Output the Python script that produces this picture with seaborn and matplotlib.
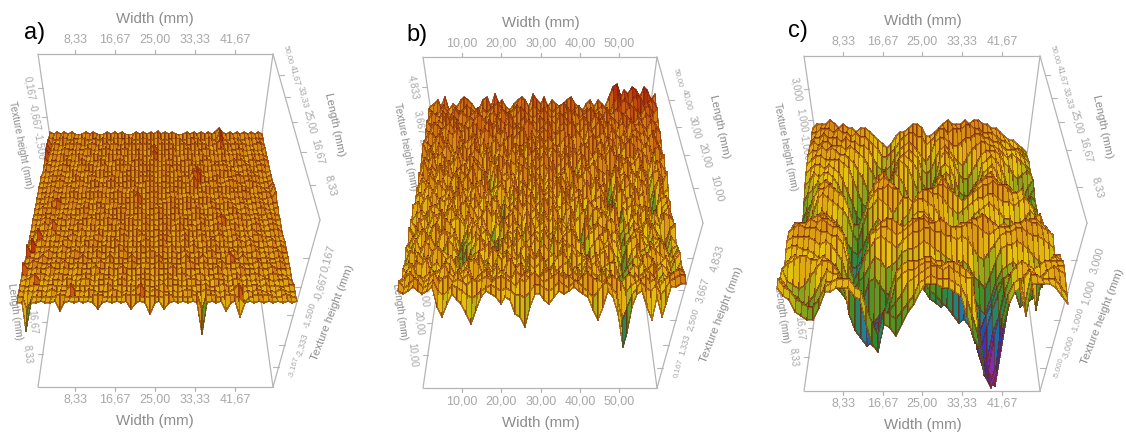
import matplotlib
matplotlib.use("Agg")
import matplotlib.pyplot as plt
from matplotlib.colors import TwoSlopeNorm
import seaborn as sns
import numpy as np

# height grids, back row first, one base-36 character per cell
heights_a = [
"vuvuvuvutuvuvutuvuvuvutuvuvuvuwuvuvutuvuvuvuvuvyvuvuvuvuvuvu",
"vutuvutuuvutuutvutuvuuvutuvutuvutuuvutuvvutuvutzutuvutuvuvuu",
"xuvutuvuvutuvutuvuvutvuvuvuvutuvuvutuvuuvuvutuvxuvuvuvutuvvu",
"ytutuvuutuuvutuuvutuuvutuutuvxutuuvutuvutuuvutuvutuuvutuutuv",
"yuvuvutvuvutuvutuvuvutuvuvutuxuvuvutuvuvuvutuvuvuvuvutuvuvut",
"vtuutuvutuvutuuvutuuvutuuvutuvutuvutuuvutuuvuttuutvuvtuvuuvu",
"uvutuvuutuvuvutuvutuvuvutuvuvutuvuuvutuvuvutuvuvuttuuvutuvut",
"tutuvutuvutuutuvutuvutuuvutuutuvutuvutuvxutuvuvuuvutuvutuutu",
"utuvuvutuvutuvutuuvutuvutuvuvutuvutuuvuxyvutuvutuuvvuvuvutuv",
"tutuuvutuuvutuvutuvutuuvutuuvutuutuvutuxutuuvutuvvutuvuutuuv",
"utuvutuvutuvutuuvutuvutuvutuvuvutvuutuvutuvutuuvutuvutuvutux",
"tuutvuutuvutuvuvutuuvutuvutuuvutuuvutuutuvutuvutuvuvvutuuvuz",
"utuvutuuvutuutuvuvutuvuuvxutuvutuvutuvutuuvutvuutuvutuvutuvy",
"tutuvxutuvutvutuutuvutuuvutuvutuuvutuvuvutuvutuvutuutuuvutuu",
"utvuvutuutuuvutuvutuuvutuvutuuvutuvutuuvutuvuutuvutvutuvutuv",
"tutuutuvtutuvutuuvutuvutuuvutuvutuuvutuvuutuvutuuvuutuutuvut",
"utuvutuutvutuuvutuvuutuvutuvutuuvutvuutuvutuvxutuvutuvutuutu",
"tutvtxuttutvutututuutvututuvtutvutuvtuutvutuvutuvtutuvutuvut",
"ttutuvtutuutvtutvututvutuvtutuutvtutvutuututvtuvututvtutuuvt",
"utytutvuttvututuvtuttuvtutvuttuvututvtutvuttvutuvtutuvuttutu",
"tutvtuttuvtutuuvttutvtututtvutuvttutvtututvututtvutvttutvtut",
"tzutututvttutvtutuuttvututvtutuutvtutuvttutvtuttutuvuttuttvt",
"yttutvttutuvttutvttutuvttuttvutututtvttutuvttutvtuttvtutuvtt",
"tuttvttuttuttvttuttvtuttvttutuvttuttvtutvtuttuxttvtuttuttutu",
"ttvutttutvttuttutvtutttuvttuttvtutttuvttutttvttuttttvtutuvtt",
"xttuttvttuttutttvttuttvtttuttutttvtuttttuttvtuttvtttuttvtttu",
"tsttutstuttsttutsuttstutsttutsttustutstusttutstusttutstuttst",
"stuxststtsutstutsttustustsuttstsuttstutstsuttstuststsutsttus",
"tssttsttstsustststtusttstsutsstusttststtusstustststtsustsstt",
"tststtsusttxttsutsssutstsuxtsutsststutssuttstsuxstsutstsutss",
"tskstststutstststutststututsttstutststuktutstutspstututstuts",
"ssasstsstnstststsostststostslstostststs8ststnstjstststststst",
]
heights_b = [
"pqrpsoqprsrqoprsptqrpoqrsrptrqsprqpqrsqpoqrprqpsvwsutvusvurt",
"qpoqrpoqpqrqpoqpqrsqppqrqoprqpqrpqrsqpqrpqopqrqpsustrtutrstr",
"orqprqpsqrpqrsopqrpsqrpqsrqpqrsqpqrpsqrpqrsqrpsqrsqrtsrqstqs",
"qopqpsqrqoprqsrpqorqpsqoqrpqprqoqpsrqpoqrqpsqrorqpsrqprqsrpq",
"porqpqrpsnqprqoqsprnqrpqprsqopqspnqrqspoqrpqsprqoqrpsqrqpsrp",
"nqpormqprqloqnprqoqprmopqrnqoprqnpqrmoqpnrqopqnrpoqnqrpqoprq",
"ponqropnkqopqrnpkoqnpqrlnopqnroqpnoqrpkonqrpnoqpmqnorqpnqsop",
"qnpmqoqnlnqoprmoqlnpqmoqpnrmpoqnqpmoqlnpqomprnqoknqrpmoqplqn",
"omqnopmkoqnmoqpnqkompnqormopqnomqpnrmqopnmoqnoqplomonqpnkqrm",
"npoqmkpnoqmnqpomjonqpmonqpmnqorpnmoqpjnqomnpqoinqmpnoqmkpnoq",
"mqnonpmqlnopmqonljpmoqnlpomqnopmqlnoqkmpnoqmlnhompqnlonkmqpn",
"onlpmqnomkpnoqlmoikqnomlnqpmonlqomnpjlomqnlpogmqnolpmqnjopml",
"lompnmolnqmoplnmqjlmonpkmolqnpmonlpmjqoplmnoegjnmpolqmohlonq",
"nkmolpnmokqnmolpmljnolmqkonmpnlomqnkmolnpmqnoekqlnomkpnfmqln",
"mnljomlnpmkolnqmkolmhnkpmolnkqmonlpmknolmjnpmfjnolkpmngdhomk",
"ljmolknmolqknmolpjnmgjlmoknplmjonlkqmnojlmnoljgdlnomkljflnom",
"nolkmnljmpknolmnkomifnlkpmonlkqmjlnomkpjonlmknjgmlojnkmhcmoj",
"kmnjolmknolmjpnkmolnjkmonljmoknlpmjnoklmjnolkmpjkhnlmojnkmol",
"mjlnkompjlnmkolmnjglkmnojlpmnkolnjmkolnpkjmonlkhjlnokmjlkonm",
"ljokmlnjomkfilojmkigjolnmkjolmnjkomlnjgokmljnomfjknmlojkiglm",
"nkmljnokmljfhknolmhfjkmlnjokmlnjkolnmkgjlmonjlmhikmnljolfimo",
"jmlonkjmolngfjlnmkgdhknjolkmnjolkjmnolkhfjmnolkfimonkjmlgimk",
"lknjmolkjnlidgjmokigjnlkmojlnmkjolnmkjigkmolnjgflnojkmlnjhkl",
"mjlkonjmlkgjdhkjlmojlkmnjlokjmnlkjomnlkjhflmnkjdhlnkjmlonkjm",
"jnmkljnomkjlgikmnjlomjnlkmjoknjlmkojnlmkjlmnjkfgikmjlonmkjln",
"kljomnkljmnkjlmjokljnmojkljnmokjlnomjklnmojkllfdhkjnomklnjmo",
"ljknmojklnmjlknomjlkmjnolkjmlnojklmnjlkomnjlkicfkmlnjokmljkn",
"jmolkjnlmokjlmnjklojlmkjnolmjknlojmklnjomkljmfbfjlkmnojlkjmn",
"lnmklmnkmlnmolnkmnolkmnlomnlkmnolmnkomlnmkolhjkmnlkonmlknmlo",
"mnpnomnpmnomnmlnmnomnonmlnmopnmnopnonmopnnmnonmjlmnomnlnopqp",
"omnpomnolklnmlkjklmnmlmlkkjlnnmlmonmoomljlnomkcgkmomlnkmopqq",
"nmnonmnoifjmkjgdhlnmljlkgfcimmkjlnmnonmlheinlg6aimnielfjoopp",
]
heights_c = [
"uvvvwvuvuutuutsrqpqsttuvvusstuvwvvvwvwwvvuutsrrqpo",
"uuvvvuvuututtsrqoopqstuuttrstvvuvvvwwvvuuutssrqqpo",
"tuuvuuututtssrpnmmnprstsrpoqtuutsstuuvvuuttsrrrqpo",
"tutuutttstsrqomkjjloqrsrqnmnqstsqpoqstuuttsrqrqpon",
"sttututssrqomjhgghlprsrqoljjnrtsqnmmoqstttsqpnmnon",
"rsttssssrqnkhgedfilosrqnkigimqrqnkjjlnrstsqnkihjln",
"qrssrsrqolifecdehlnqpnkhgffjnpqpkhggimqrsqnjgfgikm",
"oprqrrqolifdcbdgjloomjgfeefjmopnigfgjmopqnjfedfilk",
"lnoqpqnliecbbcfilmmlifeddehlnnmkgeefjmnolhedcegikj",
"ikmnoolifcbabdhlorolieecdfjorqmhedehmqsrnifddfijki",
"ghlprtsplfcbdinsuvtpkhfegloqtuqkgfhmstuvtqnkhijlkh",
"fhmqtutsqkfdhmqtuvutqnkhimqstvtqolmqtuvvuttsrqolij",
"ginrttutsrokknqsttuttrqoqrttuutsrqrstuuvuutsstqokj",
"fhkostsrqpnjhlpqsrqoqssrtuuttsqpopqrssttsrrqrsrpmk",
"ehjloqponligfhkmonkjlopsttsrpnkjjlnpqrsrqoomnoqpnl",
"dfgjmnlkihfddfgijgfgijmqrrqolifghjlnoqponjihjlmmlj",
"cegijiihfecbbcdegfedfgjnoolifedfgijklmmkgfefhikkjh",
"dfhlnpqnjfcabbdfhlkgfilopnjfedefhkopqolifedfilnpoj",
"giorstuspjdbacglqstsnjosttrnjgfhlprtutrolhilqstuqn",
"orstuvuutrkfcflqstuutstuuvuttsrsttuuvutstsrstuutsq",
"suuuvuvuttrlgimrsttsrstuvvuuvutttuutsrstttuuvuutsr",
"tuvuuuttssqlhjnprsrqprsttuuttssrsrpnmoqsttuutssrqp",
"sttttsrsrpnifijmonlmnpqqrsrqponmnmjigjnqrrsrqonmml",
"rssrrqpponkfcdfjkigghjlmopnlkjhgijfcbfjmnonlkjijlm",
"pqpqonmnlkiggfdbacdfhijlkigfefefhc88cfjlmkifgijnqr",
"mrsrqrqpokjhgeb9acegjlmnmljigfdbca65aeimnjfghknqss",
"qrsttsstsqnkgda88cfhloqrsssrrqpnje843aeknplkloqsts",
"ronmnprttsqmkfdbbdhmqstttuuttsstpi731aglqstsrstttt",
"qomljkmpsrrojheb9bfjprsstuuttuutsrh620bimpqsrqsstt",
"qolkjiklqqrpiecabdgjlnqrstuututsrrf5109ioprtjrtuts",
"sqpnmllnqrsssqplhekjikmorstsssrqnje426iorsmttsssqo",
"rpolkjjmqqrrrpoidbihfilnqsssrrqpkfc526hnqrkssssrpn",
]
tick_color = "#a8a8a8"
line_color = "#b5b5b5"
width_ticks_a = ["8,33", "16,67", "25,00", "33,33", "41,67"]
width_ticks_b = ["10,00", "20,00", "30,00", "40,00", "50,00"]
length_ticks_a = ["50,00", "41,67", "33,33", "25,00", "16,67", "8,33"]
length_ticks_b = ["50,00", "40,00", "30,00", "20,00", "10,00"]
z_ticks_a = ["0,167", "-0,667", "-1,500", "-2,333", "-3,167"]
z_ticks_b = ["4,833", "3,667", "2,500", "1,333", "0,167"]
z_ticks_c = ["3,000", "1,000", "-1,000", "-3,000", "-5,000"]

panels = [
    dict(name="a)", name_xy=(35, 33), span=(0, 375), rows=heights_a, low=-2.0, step=0.07,
         norm=(-2.0, -0.2, 0.6), back=(50, 262, 136), front=(17, 297, 302), h0=0.0, k=22,
         frame=(38, 273, 54, 387), outer=(320, 220), inner_l=(62, 220), inner_r=(250, 220),
         width=width_ticks_a, width_x=[75, 115, 155, 195, 235], title_y=(19, 421), tick_y=(40, 400),
         length=length_ticks_a, length_xy=[(288, 55), (295, 75), (303, 97), (310, 122), (318, 152), (330, 185)],
         zlab=z_ticks_a, z_xy=[(328, 258), (321, 287), (310, 315), (302, 345), (293, 367)],
         left_z=[("0,167", 29, 88), ("-0,667", 34, 117), ("-1,500", 39, 146)],
         left_l=[("8,33", 28, 354), ("16,67", 33, 322)],
         tex_l=(20, 145), len_l=(15, 312), tex_r=(333, 313), len_r=(335, 125)),
    dict(name="b)", name_xy=(417, 35), span=(375, 750), rows=heights_b, low=0.0, step=0.15,
         norm=(0.2, 2.9, 5.0), back=(430, 655, 108), front=(398, 686, 285), h0=3.7, k=22,
         frame=(423, 657, 57, 388), outer=(703, 223), inner_l=(447, 223), inner_r=(635, 223),
         width=width_ticks_b, width_x=[462, 501, 541, 580, 619], title_y=(23, 423), tick_y=(43, 402),
         length=length_ticks_b, length_xy=[(678, 78), (687, 100), (695, 127), (705, 155), (717, 188)],
         zlab=z_ticks_b, z_xy=[(717, 258), (703, 290), (693, 320), (685, 345), (678, 368)],
         left_z=[("4,833", 413, 87), ("3,667", 419, 122), ("2,500", 424, 150)],
         left_l=[("10,00", 413, 355), ("20,00", 419, 323), ("30,00", 424, 295)],
         tex_l=(405, 147), len_l=(400, 312), tex_r=(722, 315), len_r=(720, 127)),
    dict(name="c)", name_xy=(798, 31), span=(750, 1126), rows=heights_c, low=-6.0, step=0.25,
         norm=(-5.8, 0.3, 4.2), back=(813, 1026, 152), front=(777, 1068, 300), h0=0.0, k=16,
         frame=(804, 1040, 56, 391), outer=(1087, 223), inner_l=(828, 223), inner_r=(1018, 223),
         width=width_ticks_a, width_x=[843, 883, 922, 962, 1002], title_y=(21, 425), tick_y=(42, 404),
         length=length_ticks_a, length_xy=[(1055, 55), (1062, 75), (1068, 98), (1077, 122), (1086, 150), (1097, 187)],
         zlab=z_ticks_c, z_xy=[(1097, 260), (1088, 292), (1078, 320), (1068, 347), (1058, 368)],
         left_z=[("3,000", 796, 89), ("1,000", 802, 120), ("-1,000", 805, 147)],
         left_l=[("8,33", 794, 357), ("16,67", 800, 328)],
         tex_l=(785, 147), len_l=(782, 315), tex_r=(1103, 317), len_r=(1103, 127)),
]

sns.set_theme(style="white")
plt.rcParams["font.family"] = ["Liberation Sans", "DejaVu Sans"]
surface_cmap = sns.blend_palette(
    ["#8a2aa8", "#2338c4", "#1f7f9a", "#2f8a2a", "#8fa51c", "#e3c210", "#d99a12", "#cc6f10", "#bb3a0c", "#8e1c08"],
    as_cmap=True,
)


def edge_x(p0, p1, y):
    return p0[0] + (y - p0[1]) / (p1[1] - p0[1]) * (p1[0] - p0[0])


def draw_box(ax, p):
    x0, x1, y0, y1 = p["frame"]
    tl, tr, bl, br = (x0, y0), (x1, y0), (x0, y1), (x1, y1)
    segs = [(tl, tr), (br, bl), (tr, p["outer"]), (p["outer"], br),
            (tl, p["inner_l"]), (p["inner_l"], bl), (tr, p["inner_r"]), (p["inner_r"], br)]
    for a, b in segs:
        ax.plot([a[0], b[0]], [a[1], b[1]], color=line_color, lw=0.9, zorder=1)
    for lab, x in zip(p["width"], p["width_x"]):
        ax.plot([x, x], [y0 - 4, y0], color=line_color, lw=0.9, zorder=1)
        ax.plot([x, x], [y1, y1 + 4], color=line_color, lw=0.9, zorder=1)
        ax.text(x, p["tick_y"][0], lab, color=tick_color, fontsize=9, ha="center", va="center")
        ax.text(x, p["tick_y"][1], lab, color=tick_color, fontsize=9, ha="center", va="center")
    for y in p["title_y"]:
        ax.text(sum(p["width_x"]) / 5, y, "Width (mm)", color="#8c8c8c", fontsize=10.8, ha="center", va="center")
    for i, (lab, (lx, ly)) in enumerate(zip(p["length"], p["length_xy"])):
        size = 5.7 + 2.3 * i / (len(p["length"]) - 1)
        ax.text(lx, ly, lab, color=tick_color, fontsize=size, rotation=-76, ha="center", va="center")
        if i > 0:
            ex = edge_x(tr, p["outer"], ly)
            ax.plot([ex, ex + 5], [ly, ly], color=line_color, lw=0.8, zorder=1)
    for i, (lab, (lx, ly)) in enumerate(zip(p["zlab"], p["z_xy"])):
        size = 8.0 - 2.4 * i / (len(p["zlab"]) - 1)
        ax.text(lx, ly, lab, color=tick_color, fontsize=size, rotation=74, ha="center", va="center")
        ex = edge_x(p["outer"], br, ly)
        ax.plot([ex - 6, ex], [ly, ly], color=line_color, lw=0.8, zorder=1)
    for lab, lx, ly in p["left_z"]:
        ax.text(lx, ly, lab, color=tick_color, fontsize=7.1, rotation=-80, ha="center", va="center")
        ex = edge_x(tl, p["inner_l"], ly)
        ax.plot([ex - 5, ex], [ly, ly], color=line_color, lw=0.8, zorder=1)
    for lab, lx, ly in p["left_l"]:
        ax.text(lx, ly, lab, color=tick_color, fontsize=7.1, rotation=-85, ha="center", va="center")
        ex = edge_x(bl, p["inner_l"], ly)
        ax.plot([ex - 5, ex], [ly, ly], color=line_color, lw=0.8, zorder=1)
    ax.text(*p["tex_l"], "Texture height (mm)", color="#8c8c8c", fontsize=7.2, rotation=-79, ha="center", va="center")
    ax.text(*p["len_l"], "Length (mm)", color="#8c8c8c", fontsize=7.2, rotation=-82, ha="center", va="center")
    ax.text(*p["tex_r"], "Texture height (mm)", color="#8c8c8c", fontsize=8.2, rotation=69, ha="center", va="center")
    ax.text(*p["len_r"], "Length (mm)", color="#8c8c8c", fontsize=8.2, rotation=-78, ha="center", va="center")
    ax.text(*p["name_xy"], p["name"], color="black", fontsize=17, ha="center", va="center")


def draw_surface(ax, p):
    ncol = min(len(r) for r in p["rows"])
    z = p["low"] + p["step"] * np.array([[int(c, 36) for c in r[:ncol]] for r in p["rows"]])
    u, v = np.meshgrid(np.linspace(0, 1, ncol), np.linspace(0, 1, z.shape[0]))
    left = p["back"][0] + v * (p["front"][0] - p["back"][0])
    right = p["back"][1] + v * (p["front"][1] - p["back"][1])
    x = left + u * (right - left)
    y = p["back"][2] + v * (p["front"][2] - p["back"][2]) - (z - p["h0"]) * p["k"]
    vmin, vcenter, vmax = p["norm"]
    # back rows come first in the grid so nearer cells paint over them
    ax.pcolormesh(x, y, z[:-1, :-1], cmap=surface_cmap, norm=TwoSlopeNorm(vcenter, vmin, vmax),
                  shading="flat", edgecolors=(0.45, 0.13, 0.03, 0.5), linewidth=0.3, zorder=3)


W, H = 1126, 433
fig = plt.figure(figsize=(W / 100, H / 100), dpi=100, facecolor="white")
for p in panels:
    x0, x1 = p["span"]
    ax = fig.add_axes([x0 / W, 0, (x1 - x0) / W, 1])
    ax.set_xlim(x0, x1)
    ax.set_ylim(H, 0)
    ax.axis("off")
    draw_box(ax, p)
    draw_surface(ax, p)
fig.savefig("out.png", dpi=100)
